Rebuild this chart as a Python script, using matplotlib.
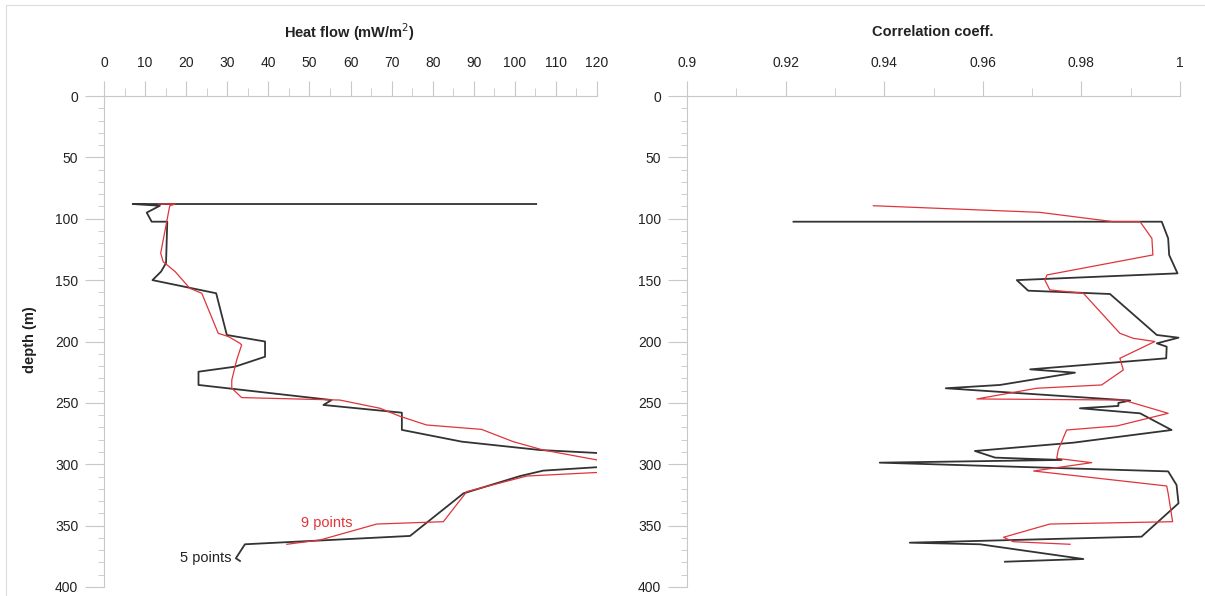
import matplotlib
matplotlib.use("Agg")
import matplotlib.pyplot as plt
from matplotlib.ticker import MultipleLocator, FuncFormatter
from matplotlib.patches import Rectangle

plt.rcParams['font.family'] = ['Liberation Sans', 'DejaVu Sans']

# Heat flow, 5 points (black)
hf5_depth = [88, 88, 89.4, 95, 102.4, 102.4, 136, 143, 150, 160.7, 194.7, 200, 212.4,
             220.5, 224.6, 235.4, 247.7, 251.7, 258, 272, 281.6, 288.4, 296, 305.2,
             309.6, 323.7, 358.4, 365.2, 376.6, 378.8]
hf5_val = [105.2, 7, 13.6, 10.4, 11.6, 15.4, 15.1, 13.9, 11.8, 27.3, 29.9, 39.2, 39.2,
           31.9, 23, 23, 55.4, 53.4, 72.5, 72.5, 87.1, 106.1, 150, 106.9,
           101.3, 87.5, 74.5, 34.3, 32.1, 33.1]

# Heat flow, 9 points (red)
hf9_depth = [88, 88, 89.5, 128, 135, 143, 156.7, 160.7, 193.3, 196, 201.5, 202.8, 215,
             231.4, 238, 245.7, 247.7, 254.4, 261, 268, 271.6, 281.6, 288.4, 304.5,
             309.6, 322.3, 346.8, 348.7, 361.7, 365.2]
hf9_val = [13.2, 17.3, 16.0, 13.8, 14.4, 17.3, 20.9, 23.8, 27.8, 30.3, 33.1, 33.5, 32.3,
           31.1, 31.1, 33.5, 57.4, 67.2, 72.1, 78.5, 91.9, 99.6, 106.9, 133,
           102.9, 88.3, 82.6, 66.4, 52.6, 44.5]

# Correlation coefficient, 5 points (black)
cc5_depth = [102.4, 102.4, 116, 129.5, 144.5, 150, 158.6, 161.3, 194.7, 196.9, 201.5,
             204.2, 213.7, 222.7, 225.4, 235.4, 238.1, 248.1, 250, 252.5, 254.4, 258.5,
             272.1, 282.4, 289.2, 294.6, 296.5, 298.7, 305.8, 316.9, 331.8, 359,
             363.9, 365.2, 377.2, 379.4]
cc5_val = [0.9216, 0.9963, 0.9976, 0.9978, 0.9995, 0.9669, 0.9692, 0.9858, 0.9953, 0.9997,
           0.9953, 0.9973, 0.9972, 0.9696, 0.9787, 0.9635, 0.9525, 0.9899, 0.9875, 0.9875,
           0.9797, 0.9919, 0.9983, 0.9784, 0.9584, 0.9625, 0.9760, 0.9391, 0.9976, 0.9993,
           0.9997, 0.9922, 0.9452, 0.9594, 0.9804, 0.9645]

# Correlation coefficient, 9 points (red)
cc9_depth = [89.4, 94.8, 102.4, 102.4, 116, 129.5, 145.8, 150, 158, 160.7, 193.3, 197.4,
             200, 213.7, 223.2, 235.4, 238.1, 246.8, 247.7, 258.5, 268.8, 272.1, 288.4,
             295.2, 298.7, 305.5, 317.7, 323.7, 346.8, 348.7, 359.5, 363.1, 365.2]
cc9_val = [0.9378, 0.9716, 0.9865, 0.9919, 0.9943, 0.9945, 0.9730, 0.9726, 0.9736, 0.9804,
           0.9878, 0.9905, 0.9949, 0.9878, 0.9885, 0.9841, 0.9709, 0.9588, 0.9885, 0.9976,
           0.9872, 0.9770, 0.9753, 0.9750, 0.9821, 0.9703, 0.9973, 0.9976, 0.9985, 0.9736,
           0.9642, 0.9662, 0.9777]

axis_col = '#c8c8c8'
text_col = '#222222'
black = '#333333'
red = '#e0343c'

fig = plt.figure(figsize=(12.05, 5.96), dpi=100)
ax1 = fig.add_axes([104 / 1205, 1 - 587 / 596, 493 / 1205, 491 / 596])
ax2 = fig.add_axes([687 / 1205, 1 - 587 / 596, 493 / 1205, 491 / 596])

# рамка вокруг рисунка
fig.patches.append(Rectangle((6 / 1205, -0.01), 1.2, 1 - 5 / 596 + 0.01,
                             transform=fig.transFigure, fill=False,
                             edgecolor='#dddddd', linewidth=0.8))

ax1.plot(hf5_val, hf5_depth, color=black, linewidth=1.3)
ax1.plot(hf9_val, hf9_depth, color=red, linewidth=0.9)
ax2.plot(cc5_val, cc5_depth, color=black, linewidth=1.3)
ax2.plot(cc9_val, cc9_depth, color=red, linewidth=0.9)

ax1.set_xlim(0, 120)
ax2.set_xlim(0.9, 1.0)

for ax in (ax1, ax2):
    ax.set_ylim(400, 0)
    ax.spines['right'].set_visible(False)
    ax.spines['bottom'].set_visible(False)
    ax.spines['top'].set_color(axis_col)
    ax.spines['left'].set_color(axis_col)
    ax.xaxis.tick_top()
    ax.yaxis.set_major_locator(MultipleLocator(50))
    ax.yaxis.set_minor_locator(MultipleLocator(10))
    ax.tick_params(axis='x', which='major', length=10.8, pad=8, color=axis_col,
                   labelcolor=text_col, labelsize=10)
    ax.tick_params(axis='x', which='minor', length=5.8, color=axis_col)
    ax.tick_params(axis='y', which='major', length=13.5, pad=5, color=axis_col,
                   labelcolor=text_col, labelsize=10)
    ax.tick_params(axis='y', which='minor', length=4, color=axis_col)
    ax.set_facecolor('none')

ax1.xaxis.set_major_locator(MultipleLocator(10))
ax1.xaxis.set_minor_locator(MultipleLocator(5))
ax2.xaxis.set_major_locator(MultipleLocator(0.02))
ax2.xaxis.set_minor_locator(MultipleLocator(0.01))
ax2.xaxis.set_major_formatter(FuncFormatter(lambda v, p: f'{v:g}'))

fig.text(350 / 1205, 1 - 32 / 596, 'Heat flow (mW/m$^2$)', ha='center', va='center',
         fontsize=10.5, fontweight='bold', color=text_col)
fig.text(933 / 1205, 1 - 32 / 596, 'Correlation coeff.', ha='center', va='center',
         fontsize=10.5, fontweight='bold', color=text_col)
fig.text(30 / 1205, 1 - 340 / 596, 'depth (m)', ha='center', va='center', rotation=90,
         fontsize=10.5, fontweight='bold', color=text_col)

ax1.text(54.3, 347.5, '9 points', color=red, fontsize=10.5, ha='center', va='center')
ax1.text(31.0, 376.5, '5 points', color=text_col, fontsize=10.5, ha='right', va='center')

fig.savefig('out.png', dpi=100, facecolor='white')
